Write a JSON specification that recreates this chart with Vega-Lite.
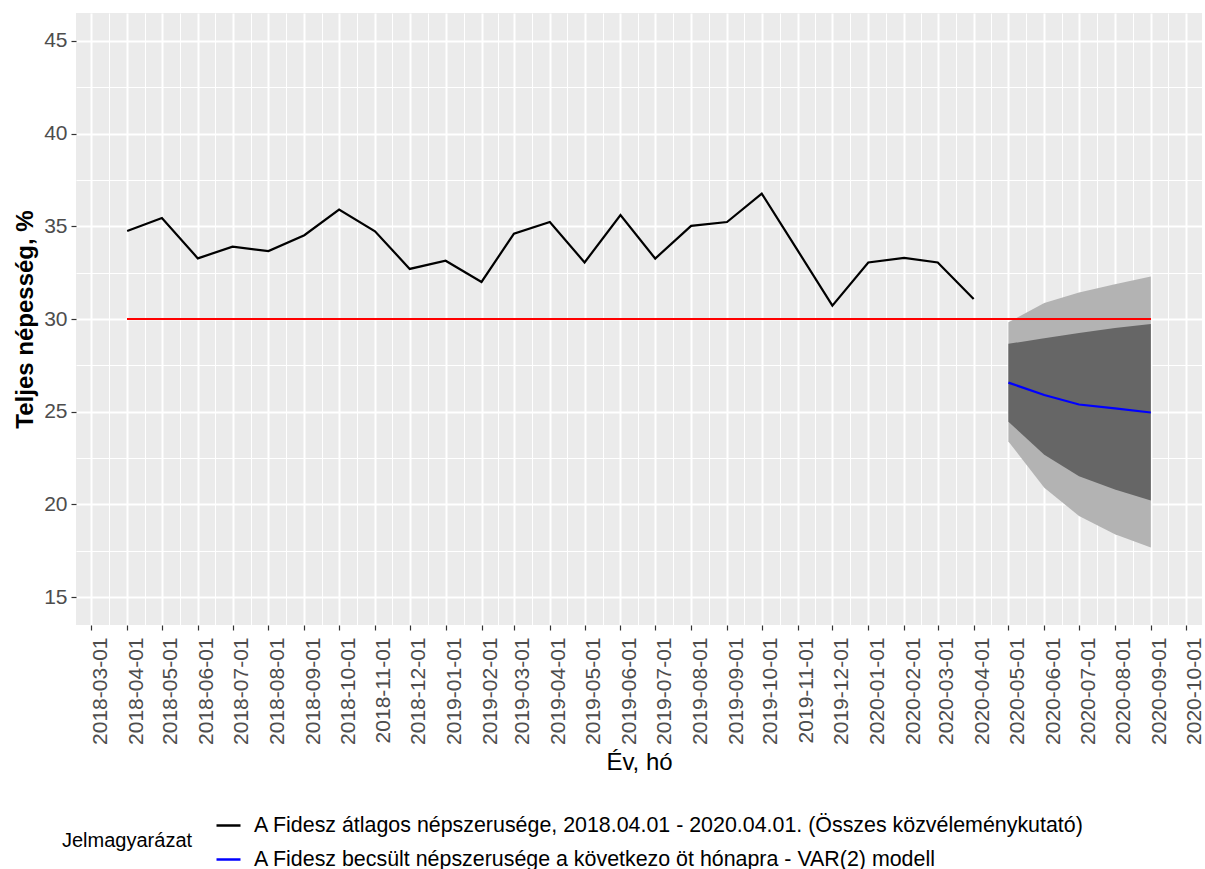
{
  "$schema": "https://vega.github.io/schema/vega-lite/v6.json",
  "width": 1126,
  "height": 612,
  "autosize": {"type": "none"},
  "padding": {"left": 76, "top": 13, "right": 3, "bottom": 244},
  "background": "white",
  "config": {
    "font": "Liberation Sans",
    "view": {"fill": "#EBEBEB", "stroke": null},
    "axis": {
      "domain": false,
      "gridColor": "white",
      "tickColor": "#333333",
      "tickWidth": 1.2,
      "labelColor": "#4D4D4D",
      "labelFontSize": 21,
      "labelFont": "Liberation Sans",
      "titleFont": "Liberation Sans",
      "titleColor": "black",
      "titleFontSize": 24,
      "titleFontWeight": "normal"
    }
  },
  "data": {
    "values": [
      {"honap": "2018-04-01", "ertek": 34.75, "sorozat": "A Fidesz átlagos népszerusége, 2018.04.01 - 2020.04.01. (Összes közvéleménykutató)"},
      {"honap": "2018-05-01", "ertek": 35.45, "sorozat": "A Fidesz átlagos népszerusége, 2018.04.01 - 2020.04.01. (Összes közvéleménykutató)"},
      {"honap": "2018-06-01", "ertek": 33.27, "sorozat": "A Fidesz átlagos népszerusége, 2018.04.01 - 2020.04.01. (Összes közvéleménykutató)"},
      {"honap": "2018-07-01", "ertek": 33.9, "sorozat": "A Fidesz átlagos népszerusége, 2018.04.01 - 2020.04.01. (Összes közvéleménykutató)"},
      {"honap": "2018-08-01", "ertek": 33.66, "sorozat": "A Fidesz átlagos népszerusége, 2018.04.01 - 2020.04.01. (Összes közvéleménykutató)"},
      {"honap": "2018-09-01", "ertek": 34.52, "sorozat": "A Fidesz átlagos népszerusége, 2018.04.01 - 2020.04.01. (Összes közvéleménykutató)"},
      {"honap": "2018-10-01", "ertek": 35.9, "sorozat": "A Fidesz átlagos népszerusége, 2018.04.01 - 2020.04.01. (Összes közvéleménykutató)"},
      {"honap": "2018-11-01", "ertek": 34.73, "sorozat": "A Fidesz átlagos népszerusége, 2018.04.01 - 2020.04.01. (Összes közvéleménykutató)"},
      {"honap": "2018-12-01", "ertek": 32.7, "sorozat": "A Fidesz átlagos népszerusége, 2018.04.01 - 2020.04.01. (Összes közvéleménykutató)"},
      {"honap": "2019-01-01", "ertek": 33.14, "sorozat": "A Fidesz átlagos népszerusége, 2018.04.01 - 2020.04.01. (Összes közvéleménykutató)"},
      {"honap": "2019-02-01", "ertek": 32.0, "sorozat": "A Fidesz átlagos népszerusége, 2018.04.01 - 2020.04.01. (Összes közvéleménykutató)"},
      {"honap": "2019-03-01", "ertek": 34.6, "sorozat": "A Fidesz átlagos népszerusége, 2018.04.01 - 2020.04.01. (Összes közvéleménykutató)"},
      {"honap": "2019-04-01", "ertek": 35.23, "sorozat": "A Fidesz átlagos népszerusége, 2018.04.01 - 2020.04.01. (Összes közvéleménykutató)"},
      {"honap": "2019-05-01", "ertek": 33.05, "sorozat": "A Fidesz átlagos népszerusége, 2018.04.01 - 2020.04.01. (Összes közvéleménykutató)"},
      {"honap": "2019-06-01", "ertek": 35.6, "sorozat": "A Fidesz átlagos népszerusége, 2018.04.01 - 2020.04.01. (Összes közvéleménykutató)"},
      {"honap": "2019-07-01", "ertek": 33.26, "sorozat": "A Fidesz átlagos népszerusége, 2018.04.01 - 2020.04.01. (Összes közvéleménykutató)"},
      {"honap": "2019-08-01", "ertek": 35.02, "sorozat": "A Fidesz átlagos népszerusége, 2018.04.01 - 2020.04.01. (Összes közvéleménykutató)"},
      {"honap": "2019-09-01", "ertek": 35.23, "sorozat": "A Fidesz átlagos népszerusége, 2018.04.01 - 2020.04.01. (Összes közvéleménykutató)"},
      {"honap": "2019-10-01", "ertek": 36.76, "sorozat": "A Fidesz átlagos népszerusége, 2018.04.01 - 2020.04.01. (Összes közvéleménykutató)"},
      {"honap": "2019-11-01", "ertek": 33.7, "sorozat": "A Fidesz átlagos népszerusége, 2018.04.01 - 2020.04.01. (Összes közvéleménykutató)"},
      {"honap": "2019-12-01", "ertek": 30.72, "sorozat": "A Fidesz átlagos népszerusége, 2018.04.01 - 2020.04.01. (Összes közvéleménykutató)"},
      {"honap": "2020-01-01", "ertek": 33.05, "sorozat": "A Fidesz átlagos népszerusége, 2018.04.01 - 2020.04.01. (Összes közvéleménykutató)"},
      {"honap": "2020-02-01", "ertek": 33.3, "sorozat": "A Fidesz átlagos népszerusége, 2018.04.01 - 2020.04.01. (Összes közvéleménykutató)"},
      {"honap": "2020-03-01", "ertek": 33.05, "sorozat": "A Fidesz átlagos népszerusége, 2018.04.01 - 2020.04.01. (Összes közvéleménykutató)"},
      {"honap": "2020-04-01", "ertek": 31.08, "sorozat": "A Fidesz átlagos népszerusége, 2018.04.01 - 2020.04.01. (Összes közvéleménykutató)"},
      {"honap": "2020-05-01", "ertek": 26.57, "also80": 24.46, "felso80": 28.66, "also95": 23.4, "felso95": 29.82, "sorozat": "A Fidesz becsült népszerusége a következo öt hónapra - VAR(2) modell"},
      {"honap": "2020-06-01", "ertek": 25.9, "also80": 22.68, "felso80": 28.96, "also95": 20.9, "felso95": 30.86, "sorozat": "A Fidesz becsült népszerusége a következo öt hónapra - VAR(2) modell"},
      {"honap": "2020-07-01", "ertek": 25.39, "also80": 21.52, "felso80": 29.25, "also95": 19.38, "felso95": 31.43, "sorozat": "A Fidesz becsült népszerusége a következo öt hónapra - VAR(2) modell"},
      {"honap": "2020-08-01", "ertek": 25.18, "also80": 20.8, "felso80": 29.52, "also95": 18.4, "felso95": 31.88, "sorozat": "A Fidesz becsült népszerusége a következo öt hónapra - VAR(2) modell"},
      {"honap": "2020-09-01", "ertek": 24.96, "also80": 20.21, "felso80": 29.73, "also95": 17.68, "felso95": 32.29, "sorozat": "A Fidesz becsült népszerusége a következo öt hónapra - VAR(2) modell"}
    ]
  },
  "layer": [
    {
      "transform": [{"filter": "isValid(datum.also95)"}],
      "mark": {"type": "area", "color": "#B3B3B3", "opacity": 1},
      "encoding": {
        "x": {
          "field": "honap",
          "type": "temporal",
          "scale": {
            "type": "utc",
            "domain": [
              {"year": 2018, "month": 2, "date": 15, "hours": 19, "minutes": 12, "utc": true},
              {"year": 2020, "month": 10, "date": 15, "hours": 4, "minutes": 48, "utc": true}
            ]
          },
          "axis": {
            "orient": "bottom",
            "grid": true,
            "gridWidth": 1,
            "labels": false,
            "ticks": false,
            "domain": false,
            "title": null,
            "minExtent": 0,
            "maxExtent": 0,
            "values": [
              {"year": 2018, "month": 3, "date": 16, "hours": 12, "utc": true},
              {"year": 2018, "month": 4, "date": 16, "utc": true},
              {"year": 2018, "month": 5, "date": 16, "hours": 12, "utc": true},
              {"year": 2018, "month": 6, "date": 16, "utc": true},
              {"year": 2018, "month": 7, "date": 16, "hours": 12, "utc": true},
              {"year": 2018, "month": 8, "date": 16, "hours": 12, "utc": true},
              {"year": 2018, "month": 9, "date": 16, "utc": true},
              {"year": 2018, "month": 10, "date": 16, "hours": 12, "utc": true},
              {"year": 2018, "month": 11, "date": 16, "utc": true},
              {"year": 2018, "month": 12, "date": 16, "hours": 12, "utc": true},
              {"year": 2019, "month": 1, "date": 16, "hours": 12, "utc": true},
              {"year": 2019, "month": 2, "date": 15, "utc": true},
              {"year": 2019, "month": 3, "date": 16, "hours": 12, "utc": true},
              {"year": 2019, "month": 4, "date": 16, "utc": true},
              {"year": 2019, "month": 5, "date": 16, "hours": 12, "utc": true},
              {"year": 2019, "month": 6, "date": 16, "utc": true},
              {"year": 2019, "month": 7, "date": 16, "hours": 12, "utc": true},
              {"year": 2019, "month": 8, "date": 16, "hours": 12, "utc": true},
              {"year": 2019, "month": 9, "date": 16, "utc": true},
              {"year": 2019, "month": 10, "date": 16, "hours": 12, "utc": true},
              {"year": 2019, "month": 11, "date": 16, "utc": true},
              {"year": 2019, "month": 12, "date": 16, "hours": 12, "utc": true},
              {"year": 2020, "month": 1, "date": 16, "hours": 12, "utc": true},
              {"year": 2020, "month": 2, "date": 15, "hours": 12, "utc": true},
              {"year": 2020, "month": 3, "date": 16, "hours": 12, "utc": true},
              {"year": 2020, "month": 4, "date": 16, "utc": true},
              {"year": 2020, "month": 5, "date": 16, "hours": 12, "utc": true},
              {"year": 2020, "month": 6, "date": 16, "utc": true},
              {"year": 2020, "month": 7, "date": 16, "hours": 12, "utc": true},
              {"year": 2020, "month": 8, "date": 16, "hours": 12, "utc": true},
              {"year": 2020, "month": 9, "date": 16, "utc": true}
            ]
          }
        },
        "y": {
          "field": "also95",
          "type": "quantitative",
          "scale": {"domain": [13.5, 46.5], "nice": false, "zero": false},
          "axis": {
            "orient": "left",
            "grid": true,
            "gridWidth": 1,
            "labels": false,
            "ticks": false,
            "domain": false,
            "title": null,
            "minExtent": 0,
            "maxExtent": 0,
            "values": [17.5, 22.5, 27.5, 32.5, 37.5, 42.5]
          }
        },
        "y2": {"field": "felso95"}
      }
    },
    {
      "transform": [{"filter": "isValid(datum.also80)"}],
      "mark": {"type": "area", "color": "#666666", "opacity": 1},
      "encoding": {
        "x": {"field": "honap", "type": "temporal", "axis": null},
        "y": {"field": "also80", "type": "quantitative", "axis": null},
        "y2": {"field": "felso80"}
      }
    },
    {
      "mark": {"type": "rule", "color": "#FF0000", "strokeWidth": 2.2},
      "encoding": {
        "x": {"datum": {"year": 2018, "month": 4, "date": 1, "utc": true}, "type": "temporal", "axis": null},
        "x2": {"datum": {"year": 2020, "month": 9, "date": 1, "utc": true}},
        "y": {"datum": 30, "type": "quantitative", "axis": null}
      }
    },
    {
      "mark": {"type": "line", "strokeWidth": 2.2},
      "encoding": {
        "x": {
          "field": "honap",
          "type": "temporal",
          "axis": {
            "orient": "bottom",
            "title": "Év, hó",
            "titleFontSize": 24,
            "titlePadding": 6,
            "grid": true,
            "gridWidth": 2,
            "tickSize": 5,
            "labelAngle": 270,
            "labelAlign": "right",
            "labelBaseline": "top",
            "labelPadding": 7,
            "labelOffset": -2,
            "labelOverlap": false,
            "labelBound": false,
            "labelFlush": false,
            "format": "%Y-%m-%d",
            "values": [
              {"year": 2018, "month": 3, "date": 1, "utc": true},
              {"year": 2018, "month": 4, "date": 1, "utc": true},
              {"year": 2018, "month": 5, "date": 1, "utc": true},
              {"year": 2018, "month": 6, "date": 1, "utc": true},
              {"year": 2018, "month": 7, "date": 1, "utc": true},
              {"year": 2018, "month": 8, "date": 1, "utc": true},
              {"year": 2018, "month": 9, "date": 1, "utc": true},
              {"year": 2018, "month": 10, "date": 1, "utc": true},
              {"year": 2018, "month": 11, "date": 1, "utc": true},
              {"year": 2018, "month": 12, "date": 1, "utc": true},
              {"year": 2019, "month": 1, "date": 1, "utc": true},
              {"year": 2019, "month": 2, "date": 1, "utc": true},
              {"year": 2019, "month": 3, "date": 1, "utc": true},
              {"year": 2019, "month": 4, "date": 1, "utc": true},
              {"year": 2019, "month": 5, "date": 1, "utc": true},
              {"year": 2019, "month": 6, "date": 1, "utc": true},
              {"year": 2019, "month": 7, "date": 1, "utc": true},
              {"year": 2019, "month": 8, "date": 1, "utc": true},
              {"year": 2019, "month": 9, "date": 1, "utc": true},
              {"year": 2019, "month": 10, "date": 1, "utc": true},
              {"year": 2019, "month": 11, "date": 1, "utc": true},
              {"year": 2019, "month": 12, "date": 1, "utc": true},
              {"year": 2020, "month": 1, "date": 1, "utc": true},
              {"year": 2020, "month": 2, "date": 1, "utc": true},
              {"year": 2020, "month": 3, "date": 1, "utc": true},
              {"year": 2020, "month": 4, "date": 1, "utc": true},
              {"year": 2020, "month": 5, "date": 1, "utc": true},
              {"year": 2020, "month": 6, "date": 1, "utc": true},
              {"year": 2020, "month": 7, "date": 1, "utc": true},
              {"year": 2020, "month": 8, "date": 1, "utc": true},
              {"year": 2020, "month": 9, "date": 1, "utc": true},
              {"year": 2020, "month": 10, "date": 1, "utc": true}
            ]
          }
        },
        "y": {
          "field": "ertek",
          "type": "quantitative",
          "axis": {
            "orient": "left",
            "title": "Teljes népesség, %",
            "titleFontWeight": "bold",
            "titleFontSize": 24,
            "titlePadding": 6,
            "grid": true,
            "gridWidth": 2,
            "tickSize": 5,
            "labelPadding": 4,
            "values": [15, 20, 25, 30, 35, 40, 45]
          }
        },
        "color": {
          "field": "sorozat",
          "type": "nominal",
          "scale": {
            "domain": [
              "A Fidesz átlagos népszerusége, 2018.04.01 - 2020.04.01. (Összes közvéleménykutató)",
              "A Fidesz becsült népszerusége a következo öt hónapra - VAR(2) modell"
            ],
            "range": ["#000000", "#0000FF"]
          },
          "legend": {
            "orient": "none",
            "legendX": -14,
            "legendY": 799,
            "direction": "vertical",
            "title": "Jelmagyarázat",
            "titleOrient": "left",
            "titleAnchor": "middle",
            "titleBaseline": "middle",
            "titleFontSize": 20,
            "titleFontWeight": "normal",
            "titleColor": "black",
            "titlePadding": 22,
            "labelFontSize": 21.4,
            "labelColor": "black",
            "labelLimit": 1100,
            "labelOffset": 12,
            "symbolType": "stroke",
            "symbolSize": 576,
            "symbolStrokeWidth": 2.5,
            "rowPadding": 10
          }
        }
      }
    }
  ],
  "resolve": {"axis": {"x": "independent", "y": "independent"}}
}
